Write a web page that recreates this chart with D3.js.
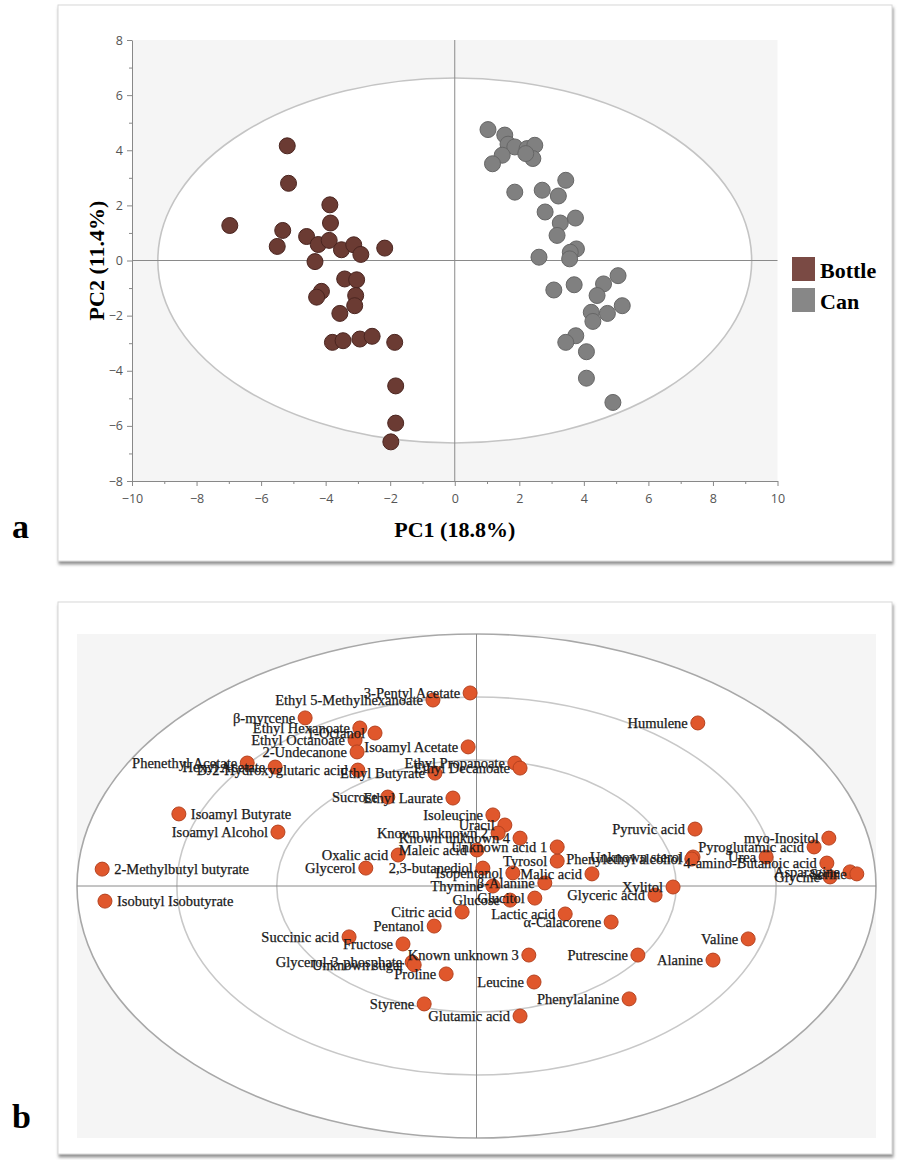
<!DOCTYPE html>
<html>
<head>
<meta charset="utf-8">
<script src="https://cdn.jsdelivr.net/npm/d3@7"></script>
<style>
  body { margin: 0; background: #fff; }
  text { font-family: "Noto Sans", sans-serif; }
</style>
</head>
<body>
<svg id="chart" width="910" height="1160"></svg>
<script>
// ---- panel a: PCA scores ----
const bottleX = [-6.97, -5.19, -5.15, -3.87, -3.85, -5.33, -5.50, -4.59, -4.23, -3.89, -3.51, -3.13, -2.91, -2.17,
  -4.33, -3.41, -3.04, -4.13, -4.28, -3.07, -3.10, -3.56, -3.79, -3.46, -2.94, -2.56, -1.86, -1.83, -1.83, -1.98];
const bottleY = [1.27, 4.16, 2.80, 2.02, 1.36, 1.09, 0.51, 0.87, 0.58, 0.73, 0.39, 0.57, 0.22, 0.45,
  -0.04, -0.67, -0.70, -1.12, -1.33, -1.27, -1.64, -1.92, -2.97, -2.91, -2.85, -2.75, -2.97, -4.55, -5.90, -6.58];
const canX = [1.03, 1.55, 1.65, 1.86, 1.47, 1.17, 2.24, 2.48, 2.42, 2.20, 1.86, 2.71, 3.44, 3.21, 2.80, 3.27, 3.74,
  3.17, 3.77, 3.58, 3.56, 2.61, 5.06, 4.61, 3.70, 3.07, 4.41, 5.19, 4.23, 4.28, 4.73, 3.75, 3.44, 4.08, 4.08, 4.90];
const canY = [4.75, 4.55, 4.22, 4.12, 3.82, 3.51, 4.06, 4.18, 3.70, 3.88, 2.48, 2.55, 2.91, 2.34, 1.76, 1.36, 1.54,
  0.91, 0.42, 0.30, 0.06, 0.12, -0.55, -0.85, -0.88, -1.07, -1.27, -1.64, -1.88, -2.21, -1.92, -2.73, -2.97, -3.31, -4.27, -5.15];
const xTicks = [-10, -8, -6, -4, -2, 0, 2, 4, 6, 8, 10];
const yTicks = [-8, -6, -4, -2, 0, 2, 4, 6, 8];
const groups = ["Bottle", "Can"];
const scoreEllipse = [9.2, 6.62]; // semi-axes in score units

// ---- panel b: loadings ----
const loadName = ["3-Pentyl Acetate", "Ethyl 5-Methylhexanoate", "β-myrcene", "Ethyl Hexanoate", "1-Octanol",
  "Ethyl Octanoate", "2-Undecanone", "Isoamyl Acetate", "Ethyl Propanoate", "Ethyl Decanoate", "Phenethyl Acetate",
  "Hexyl Acetate", "D-2-Hydroxyglutaric acid", "Ethyl Butyrate", "Sucrose", "Ethyl Laurate", "Humulene",
  "Isoamyl Butyrate", "Isoamyl Alcohol", "2-Methylbutyl butyrate", "Isobutyl Isobutyrate", "Pyruvic acid",
  "myo-Inositol", "Pyroglutamic acid", "Urea", "4-amino-Butanoic acid", "Asparagine", "Serine", "Glycine",
  "Unknown sterol", "Phenylethyl alcohol", "Xylitol", "Glyceric acid", "Valine", "Alanine", "Putrescine",
  "Phenylalanine", "Leucine", "Known unknown 3", "Glutamic acid", "Styrene", "Proline", "Fructose",
  "Glycerol-3-phosphate", "Unknown sugar", "Succinic acid", "Pentanol", "Citric acid", "Lactic acid",
  "α-Calacorene", "Glycerol", "Oxalic acid", "2,3-butanediol", "Tyrosol", "Malic acid", "Isoleucine", "Uracil",
  "Known unknown 2", "Known unknown 4", "Unknown acid 1", "Maleic acid", "Isopentanol", "β-Alanine", "Thymine",
  "Glucose", "Glucitol"];
const loadX = [-0.016, -0.109, -0.429, -0.292, -0.254, -0.304, -0.299, -0.021, 0.096, 0.109, -0.574,
  -0.504, -0.297, -0.104, -0.222, -0.059, 0.554, -0.745, -0.497, -0.937, -0.930, 0.547,
  0.882, 0.845, 0.725, 0.877, 0.935, 0.952, 0.885, 0.542, 0.539, 0.492, 0.447, 0.680, 0.592, 0.404,
  0.382, 0.144, 0.131, 0.109, -0.131, -0.076, -0.184, -0.161, -0.156, -0.319, -0.106, -0.036, 0.222,
  0.337, -0.277, -0.196, 0.016, 0.202, 0.289, 0.041, 0.071, 0.054, 0.109, 0.202, 0.001, 0.091, 0.171, 0.041,
  0.084, 0.146];
const loadY = [0.766, 0.738, 0.667, 0.627, 0.607, 0.579, 0.532, 0.552, 0.488, 0.468, 0.488,
  0.472, 0.460, 0.448, 0.353, 0.349, 0.647, 0.286, 0.214, 0.067, -0.060, 0.226,
  0.190, 0.155, 0.115, 0.091, 0.056, 0.048, 0.036, 0.115, 0.107, -0.004, -0.036, -0.210, -0.294, -0.274,
  -0.448, -0.381, -0.274, -0.516, -0.468, -0.349, -0.230, -0.302, -0.313, -0.202, -0.159, -0.103, -0.111,
  -0.143, 0.071, 0.123, 0.071, 0.099, 0.048, 0.282, 0.242, 0.210, 0.190, 0.155, 0.143, 0.052, 0.012, 0.0,
  -0.056, -0.048];
const labelRight = ["Isoamyl Butyrate", "2-Methylbutyl butyrate", "Isobutyl Isobutyrate"];
const ringLevels = [1, 0.75, 0.5];

const svg = d3.select("#chart");
const defs = svg.append("defs");
const shadow = defs.append("filter").attr("id", "shadow").attr("x", "-5%").attr("y", "-5%")
  .attr("width", "110%").attr("height", "112%");
shadow.append("feDropShadow").attr("dx", 1).attr("dy", 3).attr("stdDeviation", 1.5)
  .attr("flood-color", "#777").attr("flood-opacity", 0.8);

// frames
svg.append("rect").attr("x", 58).attr("y", 5).attr("width", 834).attr("height", 556)
  .attr("fill", "#fff").attr("stroke", "#d8d8d8").attr("filter", "url(#shadow)");
svg.append("rect").attr("x", 58).attr("y", 602).attr("width", 834).attr("height", 552)
  .attr("fill", "#fff").attr("stroke", "#d8d8d8").attr("filter", "url(#shadow)");

svg.append("text").attr("x", 12).attr("y", 538).text("a")
  .style("font-family", "Liberation Serif").style("font-weight", "bold").style("font-size", "34px");
svg.append("text").attr("x", 12).attr("y", 1128).text("b")
  .style("font-family", "Liberation Serif").style("font-weight", "bold").style("font-size", "34px");

// ---- panel a ----
const xa = d3.scaleLinear().domain([-10, 10]).range([132, 777.5]);
const ya = d3.scaleLinear().domain([-8, 8]).range([481, 40]);
const ga = svg.append("g");

ga.append("rect").attr("x", xa(-10)).attr("y", ya(8)).attr("width", xa(10) - xa(-10))
  .attr("height", ya(-8) - ya(8)).attr("fill", "#f5f5f5");
ga.append("ellipse").attr("cx", xa(0)).attr("cy", ya(0))
  .attr("rx", xa(scoreEllipse[0]) - xa(0)).attr("ry", ya(0) - ya(scoreEllipse[1]))
  .attr("fill", "#fff").attr("stroke", "#c4c4c4").attr("stroke-width", 1.6);
ga.append("line").attr("x1", xa(-10)).attr("x2", xa(10)).attr("y1", ya(0)).attr("y2", ya(0))
  .attr("stroke", "#8a8a8a");
ga.append("line").attr("x1", xa(0)).attr("x2", xa(0)).attr("y1", ya(8)).attr("y2", ya(-8))
  .attr("stroke", "#8a8a8a");

function styleAxis(g) {
  g.select(".domain").attr("stroke", "#888");
  g.selectAll(".tick line").attr("stroke", "#888");
  g.selectAll(".tick text").attr("fill", "#555").style("font-size", "12.5px")
    .style("font-family", "Open Sans, sans-serif");
}
const xMinor = d3.range(-9, 10, 2), yMinor = d3.range(-7, 8, 2);
ga.append("g").attr("transform", `translate(0,${ya(-8)})`)
  .call(d3.axisBottom(xa).tickValues(xMinor).tickSize(3).tickFormat(""))
  .call(g => g.select(".domain").remove()).selectAll("line").attr("stroke", "#888");
ga.append("g").attr("transform", `translate(${xa(-10)},0)`)
  .call(d3.axisLeft(ya).tickValues(yMinor).tickSize(3).tickFormat(""))
  .call(g => g.select(".domain").remove()).selectAll("line").attr("stroke", "#888");
ga.append("g").attr("transform", `translate(0,${ya(-8)})`)
  .call(d3.axisBottom(xa).tickValues(xTicks).tickSize(5).tickPadding(8).tickSizeOuter(0)).call(styleAxis);
ga.append("g").attr("transform", `translate(${xa(-10)},0)`)
  .call(d3.axisLeft(ya).tickValues(yTicks).tickSize(5).tickPadding(4).tickSizeOuter(0)).call(styleAxis);

const colors = { Bottle: "#6b3b33", Can: "#808080" };
const strokes = { Bottle: "#4a2520", Can: "#666" };
const scores = [
  ...bottleX.map((v, i) => ({ g: "Bottle", x: v, y: bottleY[i] })),
  ...canX.map((v, i) => ({ g: "Can", x: v, y: canY[i] }))
];
ga.selectAll("circle.score").data(scores).join("circle").attr("class", "score")
  .attr("cx", d => xa(d.x)).attr("cy", d => ya(d.y)).attr("r", 8)
  .attr("fill", d => colors[d.g]).attr("stroke", d => strokes[d.g]).attr("stroke-width", 1);

ga.append("text").attr("x", xa(0)).attr("y", 537).attr("text-anchor", "middle").text("PC1 (18.8%)")
  .style("font-family", "Liberation Serif").style("font-weight", "bold").style("font-size", "22px");
ga.append("text").attr("transform", `translate(104,${ya(0)}) rotate(-90)`).attr("text-anchor", "middle")
  .text("PC2 (11.4%)")
  .style("font-family", "Liberation Serif").style("font-weight", "bold").style("font-size", "22px");

const lg = ga.selectAll("g.leg").data(groups).join("g").attr("class", "leg")
  .attr("transform", (d, i) => `translate(792,${257 + i * 31})`);
lg.append("rect").attr("width", 23).attr("height", 24).attr("fill", d => d === "Bottle" ? "#7a4a44" : "#878787");
lg.append("text").attr("x", 28).attr("y", 21).text(d => d)
  .style("font-family", "Liberation Serif").style("font-weight", "bold").style("font-size", "22px");

// ---- panel b ----
const xb = d3.scaleLinear().domain([-1, 1]).range([77, 876]);
const yb = d3.scaleLinear().domain([-1, 1]).range([1138, 634]);
const gb = svg.append("g");
gb.append("rect").attr("x", xb(-1)).attr("y", yb(1)).attr("width", xb(1) - xb(-1))
  .attr("height", yb(-1) - yb(1)).attr("fill", "#f5f5f5");
gb.selectAll("ellipse").data(ringLevels).join("ellipse")
  .attr("cx", xb(0)).attr("cy", yb(0))
  .attr("rx", d => xb(d) - xb(0)).attr("ry", d => yb(0) - yb(d))
  .attr("fill", (d, i) => i === 0 ? "#fff" : "none")
  .attr("stroke", (d, i) => i === 0 ? "#a8a8a8" : "#c8c8c8").attr("stroke-width", 1.6);
gb.append("line").attr("x1", xb(-1)).attr("x2", xb(1)).attr("y1", yb(0)).attr("y2", yb(0))
  .attr("stroke", "#8a8a8a");
gb.append("line").attr("x1", xb(0)).attr("x2", xb(0)).attr("y1", yb(1)).attr("y2", yb(-1))
  .attr("stroke", "#8a8a8a");

const loads = loadName.map((n, i) => ({ n, x: loadX[i], y: loadY[i], right: labelRight.includes(n) }));
gb.selectAll("circle.load").data(loads).join("circle").attr("class", "load")
  .attr("cx", d => xb(d.x)).attr("cy", d => yb(d.y)).attr("r", 7)
  .attr("fill", "#e0572c").attr("stroke", "#b5421f").attr("stroke-width", 1);
gb.selectAll("text.load").data(loads).join("text").attr("class", "load")
  .attr("x", d => xb(d.x) + (d.right ? 12 : -10)).attr("y", d => yb(d.y) + 5)
  .attr("text-anchor", d => d.right ? "start" : "end").text(d => d.n)
  .attr("fill", "#1a1a1a").attr("stroke", "#1a1a1a").attr("stroke-width", 0.25)
  .style("font-family", "Liberation Serif").style("font-size", "14.5px");
</script>
</body>
</html>
